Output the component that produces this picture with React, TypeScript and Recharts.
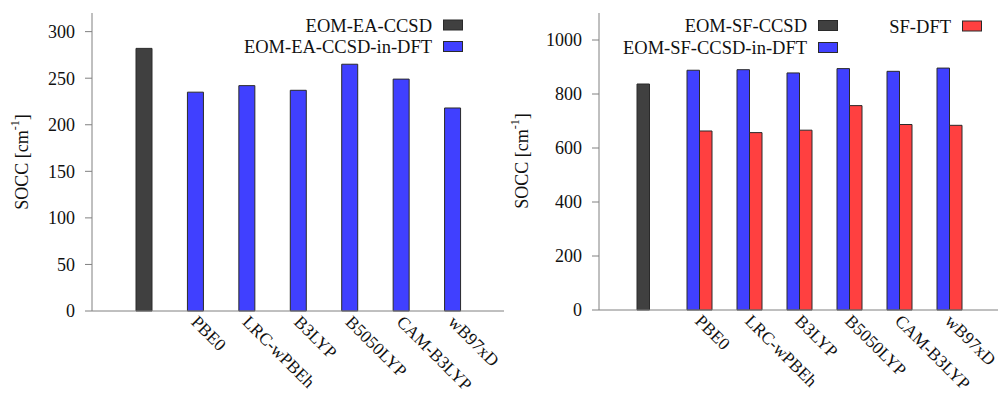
import { Bar, BarChart, Legend, XAxis, YAxis } from "recharts"

// EOM-EA panel (left)
const eaMethods = ['', 'PBE0', 'LRC-wPBEh', 'B3LYP', 'B5050LYP', 'CAM-B3LYP', 'wB97xD']
const eaCcsd = [282, null, null, null, null, null, null]
const eaEmbedded = [null, 235, 242, 237, 265, 249, 218]
const eaTicks = [0, 50, 100, 150, 200, 250, 300]

// EOM-SF panel (right)
const sfMethods = ['', 'PBE0', 'LRC-wPBEh', 'B3LYP', 'B5050LYP', 'CAM-B3LYP', 'wB97xD']
const sfCcsd = [837, null, null, null, null, null, null]
const sfEmbedded = [null, 888, 890, 878, 894, 884, 896]
const sfDft = [null, 663, 657, 666, 757, 687, 684]
const sfTicks = [0, 200, 400, 600, 800, 1000]

const eaData = eaMethods.map((name, i) => ({
    name,
    ccsd: eaCcsd[i],
    emb: eaEmbedded[i],
}))

const sfData = sfMethods.map((name, i) => ({
    name,
    ccsd: sfCcsd[i],
    emb: sfEmbedded[i],
    dft: sfDft[i],
}))

const FONT = "Liberation Serif, Tinos, Times New Roman, Times, DejaVu Serif, Noto Serif, serif"
const TEXT = '#111'
const FRAME = '#808080'
const OUTLINE = '#2a2a2a'

const SlantTick = (props: any) => {
    const { x, y, payload } = props
    const tx = x - 5
    const ty = y + 12
    return <text x={tx} y={ty} transform={`rotate(45 ${tx} ${ty})`} textAnchor="start"
        fill={TEXT} style={{ fontSize: 17.5, fontFamily: FONT }}>{payload.value}</text>
}

const AxisTitle = ({ cx, cy }: { cx: number, cy: number }) => (
    <text x={cx} y={cy} transform={`rotate(-90 ${cx} ${cy})`} textAnchor="middle"
        dominantBaseline="central" fill={TEXT} style={{ fontSize: 18, fontFamily: FONT }}>
        SOCC [cm<tspan dy={-7} style={{ fontSize: 12 }}>-1</tspan><tspan dy={7}>]</tspan>
    </text>
)

type Spot = { x: number, y: number }

const makeKey = (w: number, h: number, spots: Record<string, Spot>) => (props: any) => {
    const items = props.payload ?? []
    return <svg width={w} height={h} style={{ display: 'block' }}>
        {items.map((it: any) => {
            const s = spots[it.value]
            if (!s) return null
            return <g key={it.value}>
                <text x={s.x} y={s.y} textAnchor="end" fill={TEXT} style={{ fontSize: 18.5, fontFamily: FONT }}>{it.value}</text>
                <rect x={s.x + 11.5} y={s.y - 11.5} width={19} height={10} fill={it.color} stroke={OUTLINE} strokeWidth={1} />
            </g>
        })}
    </svg>
}

const eaKey = makeKey(510, 396, {
    'EOM-EA-CCSD': { x: 432, y: 31.5 },
    'EOM-EA-CCSD-in-DFT': { x: 432, y: 53 },
})

// right panel sits at x=505 on the page
const sfKey = makeKey(495, 396, {
    'EOM-SF-CCSD': { x: 302, y: 32 },
    'EOM-SF-CCSD-in-DFT': { x: 302, y: 54 },
    'SF-DFT': { x: 446, y: 32.5 },
})

const tickStyle = { fill: TEXT, fontSize: 18, fontFamily: FONT, style: { fontFamily: FONT } }

const App = () => {
    return <div style={{ position: 'absolute', left: 0, top: 0, width: 998, height: 396, overflow: 'hidden', background: '#fff', fontFamily: FONT }}>
        <div style={{ position: 'absolute', left: 0, top: 0 }}>
            <BarChart width={510} height={396} data={eaData} margin={{ top: 13, right: 6, bottom: 0, left: 0 }}>
                <XAxis dataKey="name" height={85} padding={{ left: 26, right: 26 }} tickLine={false} tickSize={0} tickMargin={0}
                    interval={0} tick={<SlantTick />} axisLine={{ stroke: FRAME }} />
                <XAxis xAxisId="top" dataKey="name" orientation="top" height={0} tick={false} tickLine={false} axisLine={{ stroke: FRAME }} />
                <YAxis width={92} domain={[0, 320]} ticks={eaTicks} interval={0} tickSize={7} tickMargin={10}
                    tick={tickStyle} tickLine={{ stroke: FRAME }} axisLine={{ stroke: FRAME }}
                    label={<AxisTitle cx={22} cy={162} />} />
                <YAxis yAxisId="right" orientation="right" width={0} domain={[0, 320]} tick={false} tickLine={false} axisLine={{ stroke: FRAME }} />
                <Legend layout="horizontal" verticalAlign="middle" align="center" content={eaKey}
                    wrapperStyle={{ left: 0, top: 0, width: 510, height: 396, pointerEvents: 'none' }} />
                <Bar dataKey="ccsd" name="EOM-EA-CCSD" stackId="s" fill="#404040" stroke={OUTLINE} barSize={16} isAnimationActive={false} />
                <Bar dataKey="emb" name="EOM-EA-CCSD-in-DFT" stackId="s" fill="#4040ff" stroke={OUTLINE} barSize={16} isAnimationActive={false} />
            </BarChart>
        </div>
        <div style={{ position: 'absolute', left: 505, top: 0 }}>
            <BarChart width={495} height={396} data={sfData} barGap={0} margin={{ top: 13, right: 1, bottom: 0, left: 0 }}>
                <XAxis dataKey="name" height={86} padding={{ left: 25, right: 25 }} tickLine={false} tickSize={0} tickMargin={0}
                    interval={0} tick={<SlantTick />} axisLine={{ stroke: FRAME }} />
                <XAxis xAxisId="top" dataKey="name" orientation="top" height={0} tick={false} tickLine={false} axisLine={{ stroke: FRAME }} />
                <YAxis width={94} domain={[0, 1100]} ticks={sfTicks} interval={0} tickSize={7} tickMargin={10}
                    tick={tickStyle} tickLine={{ stroke: FRAME }} axisLine={{ stroke: FRAME }}
                    label={<AxisTitle cx={17} cy={161} />} />
                <YAxis yAxisId="right" orientation="right" width={0} domain={[0, 1100]} tick={false} tickLine={false} axisLine={{ stroke: FRAME }} />
                <Legend layout="horizontal" verticalAlign="middle" align="center" content={sfKey}
                    wrapperStyle={{ left: 0, top: 0, width: 495, height: 396, pointerEvents: 'none' }} />
                <Bar dataKey="ccsd" name="EOM-SF-CCSD" stackId="s" fill="#404040" stroke={OUTLINE} barSize={12.5} isAnimationActive={false} />
                <Bar dataKey="emb" name="EOM-SF-CCSD-in-DFT" stackId="s" fill="#4040ff" stroke={OUTLINE} barSize={12.5} isAnimationActive={false} />
                <Bar dataKey="dft" name="SF-DFT" fill="#ff4040" stroke={OUTLINE} barSize={12.5} isAnimationActive={false} />
            </BarChart>
        </div>
    </div>
}

export default App
